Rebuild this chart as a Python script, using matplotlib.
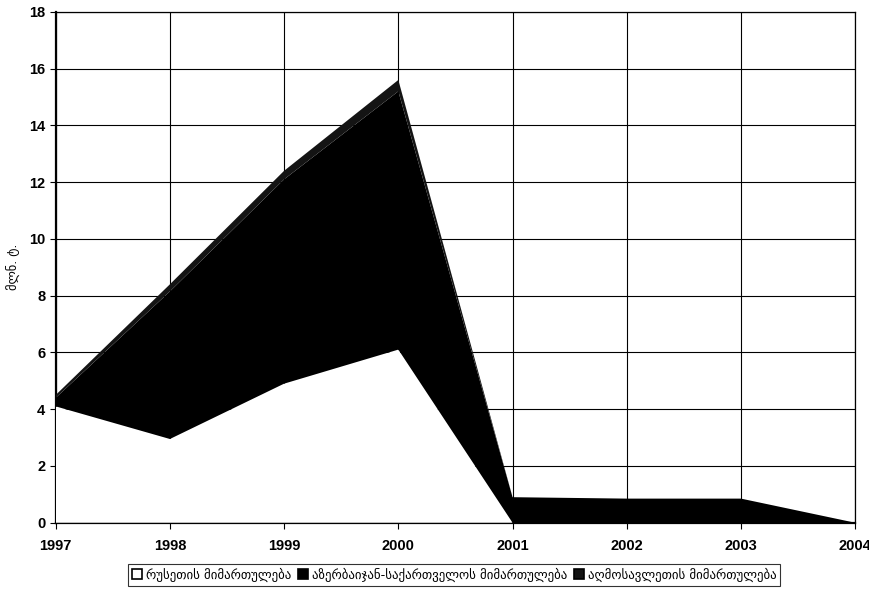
import matplotlib
matplotlib.use('Agg')
import matplotlib.pyplot as plt
import numpy as np

plt.rcParams['font.family'] = ['Liberation Sans', 'DejaVu Sans']

years = [1997, 1998, 1999, 2000, 2001, 2002, 2003, 2004]
russia = [4.1, 2.95, 4.9, 6.1, 0.0, 0.0, 0.0, 0.0]
az_geo = [0.3, 5.2, 7.2, 9.1, 0.9, 0.85, 0.85, 0.0]
east = [0.1, 0.25, 0.3, 0.4, 0.0, 0.0, 0.0, 0.0]
labels = ['რუსეთის მიმართულება',
          'აზერბაიჯან-საქართველოს მიმართულება',
          'აღმოსავლეთის მიმართულება']
yticks = np.arange(0, 19, 2)

fig = plt.figure(figsize=(8.7, 5.92), dpi=100)
ax = fig.add_axes([0.064, 0.117, 0.919, 0.863])

polys = ax.stackplot(years, russia, az_geo, east,
                     colors=['white', 'black', '#141414'],
                     labels=labels, zorder=3)

ax.set_xlim(1997, 2004)
ax.set_ylim(0, 18)
ax.set_xticks(years)
ax.set_yticks(yticks)
ax.tick_params(labelsize=10.5, length=4, direction='out')
for t in ax.get_xticklabels() + ax.get_yticklabels():
    t.set_fontweight('bold')
ax.tick_params(axis='x', pad=8)
ax.grid(True, color='black', linewidth=0.8, zorder=1)
ax.set_axisbelow(True)
for s in ax.spines.values():
    s.set_linewidth(0.9)
ax.spines['left'].set_linewidth(1.6)
ax.spines['bottom'].set_linewidth(1.6)

ax.set_ylabel('მლნ. ტ.', fontsize=9, labelpad=6, family=['DejaVu Sans'])

leg = fig.legend(loc='lower center', bbox_to_anchor=(0.522, 0.0), ncol=3,
                 frameon=True, fancybox=False, edgecolor='black',
                 handlelength=0.8, handleheight=0.8, handletextpad=0.3,
                 columnspacing=0.5, borderpad=0.3,
                 prop={'family': ['DejaVu Sans'], 'size': 9.3})
leg.get_frame().set_linewidth(0.8)
for h in leg.legend_handles:
    h.set_edgecolor('black')
    h.set_linewidth(1.2)

fig.savefig('out.png', dpi=100)
